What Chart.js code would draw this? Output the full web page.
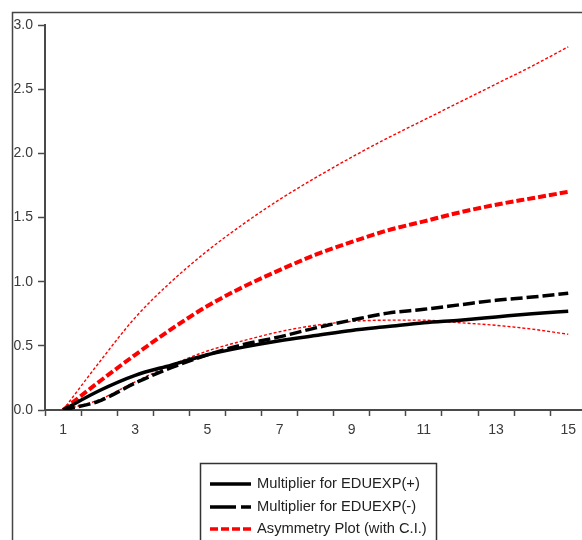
<!DOCTYPE html>
<html>
<head>
<meta charset="utf-8">
<script src="https://cdn.jsdelivr.net/npm/chart.js@4.4.1/dist/chart.umd.min.js"></script>
<style>
  html, body { margin: 0; padding: 0; background: #fff; }
  #wrap { width: 582px; height: 540px; position: relative; }
</style>
</head>
<body>
<div id="wrap"><canvas id="c" width="582" height="540"></canvas></div>
<script>
// ---- data ----
const categories = [1, 2, 3, 4, 5, 6, 7, 8, 9, 10, 11, 12, 13, 14, 15];
const multPos   = [0, 0.15, 0.27, 0.35, 0.43, 0.49, 0.54, 0.58, 0.62, 0.65, 0.68, 0.70, 0.725, 0.75, 0.77];
const multNeg   = [0, 0.07, 0.21, 0.33, 0.43, 0.51, 0.57, 0.64, 0.70, 0.755, 0.785, 0.82, 0.855, 0.88, 0.91];
const asymmetry = [0, 0.22, 0.43, 0.63, 0.81, 0.96, 1.09, 1.21, 1.31, 1.40, 1.47, 1.54, 1.60, 1.65, 1.70];
const upperCI   = [0, 0.37, 0.72, 1.00, 1.24, 1.45, 1.64, 1.81, 1.97, 2.12, 2.26, 2.40, 2.54, 2.68, 2.83];
const lowerCI   = [0, 0.08, 0.22, 0.35, 0.46, 0.54, 0.61, 0.66, 0.69, 0.70, 0.70, 0.68, 0.66, 0.63, 0.59];
const xTickLabels = ['1', '3', '5', '7', '9', '11', '13', '15'];
const yTickLabels = ['0.0', '0.5', '1.0', '1.5', '2.0', '2.5', '3.0'];
const seriesLabels = ['Multiplier for EDUEXP(+)', 'Multiplier for EDUEXP(-)', 'Asymmetry Plot (with C.I.)'];

const pts = arr => categories.map((c, i) => ({ x: c, y: arr[i] }));

const AXIS_COLOR = '#4a4a4a';
const LABEL_COLOR = '#3a3a3a';
const FONT = '"Liberation Sans", Arial, sans-serif';

const framePlugin = {
  id: 'frame',
  beforeDraw(chart) {
    const ctx = chart.ctx;
    ctx.save();
    ctx.fillStyle = '#fff';
    ctx.fillRect(0, 0, chart.width, chart.height);
    ctx.strokeStyle = '#444';
    ctx.lineWidth = 1.5;
    ctx.beginPath();
    ctx.moveTo(12.5, chart.height);
    ctx.lineTo(12.5, 12.5);
    ctx.lineTo(chart.width, 12.5);
    ctx.stroke();
    ctx.restore();
  }
};

const legendPlugin = {
  id: 'boxLegend',
  afterDraw(chart) {
    const ctx = chart.ctx;
    const ds = chart.data.datasets;
    ctx.save();
    ctx.strokeStyle = '#333';
    ctx.lineWidth = 1.5;
    ctx.strokeRect(200.5, 463.5, 236, 100);
    const rows = [484, 507, 529];
    [ds[0], ds[1], ds[2]].forEach((d, i) => {
      const y = rows[i];
      ctx.strokeStyle = d.borderColor;
      ctx.lineWidth = d.legendWidth;
      ctx.setLineDash(d.legendDash);
      ctx.lineCap = 'butt';
      ctx.beginPath();
      ctx.moveTo(210, y);
      ctx.lineTo(251, y);
      ctx.stroke();
      ctx.setLineDash([]);
      ctx.fillStyle = '#222';
      ctx.font = '14.7px ' + FONT;
      ctx.textBaseline = 'middle';
      ctx.textAlign = 'left';
      ctx.fillText(d.label, 257, y);
    });
    ctx.restore();
  }
};

const xTickValues = [];
for (let v = 0.5; v <= 15.3; v += 0.5) xTickValues.push(v);

new Chart(document.getElementById('c'), {
  type: 'line',
  data: {
    datasets: [
      { label: seriesLabels[0], data: pts(multPos), borderColor: '#000', borderWidth: 3.5,
        borderDash: [], legendDash: [], legendWidth: 3.5 },
      { label: seriesLabels[1], data: pts(multNeg), borderColor: '#000', borderWidth: 3.5,
        borderDash: [12, 4], legendDash: [26, 5], legendWidth: 3.5 },
      { label: seriesLabels[2], data: pts(asymmetry), borderColor: '#ff0000', borderWidth: 4,
        borderDash: [8, 3], legendDash: [8, 3], legendWidth: 3.5 },
      { label: 'Upper C.I.', data: pts(upperCI), borderColor: '#ff0000', borderWidth: 1.4,
        borderDash: [3, 2], legendDash: [3, 2], legendWidth: 1.4 },
      { label: 'Lower C.I.', data: pts(lowerCI), borderColor: '#ff0000', borderWidth: 1.4,
        borderDash: [3, 2], legendDash: [3, 2], legendWidth: 1.4 }
    ]
  },
  options: {
    responsive: false,
    animation: false,
    devicePixelRatio: 1,
    layout: { padding: { left: 0, top: 25, right: 0, bottom: 100 } },
    elements: {
      point: { radius: 0, hoverRadius: 0 },
      line: { cubicInterpolationMode: 'monotone', fill: false, borderCapStyle: 'butt' }
    },
    plugins: { legend: { display: false }, tooltip: { enabled: false } },
    scales: {
      x: {
        type: 'linear',
        min: 0.5,
        max: 15.355,
        afterFit(scale) { scale.height = 30; },
        afterBuildTicks(scale) { scale.ticks = xTickValues.map(v => ({ value: v })); },
        border: { display: true, color: AXIS_COLOR, width: 2 },
        grid: {
          drawOnChartArea: false,
          drawTicks: true,
          tickLength: 6,
          tickWidth: 1.5,
          tickColor: ctx => (ctx.tick && Number.isInteger(ctx.tick.value)) ? 'rgba(0,0,0,0)' : AXIS_COLOR
        },
        ticks: {
          autoSkip: false,
          maxRotation: 0,
          padding: 6,
          color: LABEL_COLOR,
          font: { family: FONT, size: 14 },
          callback: v => {
            const s = String(v);
            return xTickLabels.includes(s) ? s : '';
          }
        }
      },
      y: {
        min: 0,
        max: 3,
        afterFit(scale) { scale.width = 45; },
        border: { display: true, color: AXIS_COLOR, width: 2 },
        grid: { drawOnChartArea: false, drawTicks: true, tickLength: 7, tickWidth: 1.5, tickColor: AXIS_COLOR },
        ticks: {
          stepSize: 0.5,
          padding: 5,
          color: LABEL_COLOR,
          font: { family: FONT, size: 14 },
          callback: (v) => yTickLabels[Math.round(v * 2)]
        }
      }
    }
  },
  plugins: [framePlugin, legendPlugin]
});
</script>
</body>
</html>
